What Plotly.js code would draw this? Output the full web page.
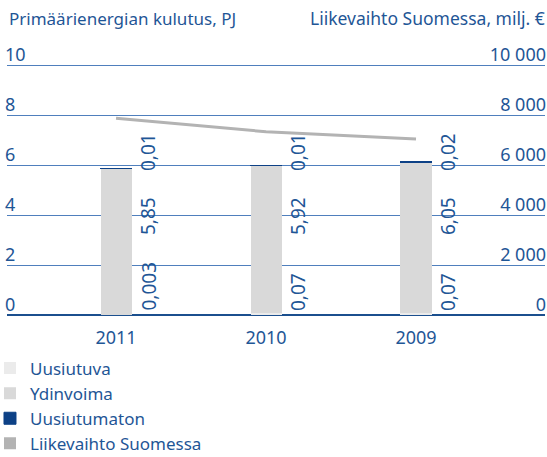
<!DOCTYPE html>
<html>
<head>
<meta charset="utf-8">
<script src="https://cdn.plot.ly/plotly-3.0.1.min.js"></script>
<style>html,body{margin:0;padding:0;background:#fff;}#chart{width:547px;height:457px;}</style>
</head>
<body>
<div id="chart"></div>
<script>
const years = ['2011', '2010', '2009'];
const uusiutuva = [0.003, 0.07, 0.07];
const ydinvoima = [5.85, 5.92, 6.05];
const uusiutumaton = [0.01, 0.01, 0.02];
const liikevaihto = [7870, 7330, 7040];
const leftTicks = [0, 2, 4, 6, 8, 10];
const rightTicks = [0, 2000, 4000, 6000, 8000, 10000];
const leftTitle = 'Primäärienergian kulutus, PJ';
const rightTitle = 'Liikevaihto Suomessa, milj. €';

const BLUE = '#1f5696';
const FONT = 'Noto Sans, sans-serif';
const fmt = v => String(v).replace('.', ',');

const barW = 0.207;
const traces = [
  {type: 'bar', name: 'Uusiutuva', x: years, y: uusiutuva, width: barW, marker: {color: '#ebebeb'}},
  {type: 'bar', name: 'Ydinvoima', x: years, y: ydinvoima, width: barW, marker: {color: '#d9d9d9'}},
  {type: 'bar', name: 'Uusiutumaton', x: years, y: uusiutumaton, width: barW,
   marker: {color: '#0d4186', line: {color: '#0d4186', width: 1}}},
  {type: 'scatter', mode: 'lines', name: 'Liikevaihto Suomessa', x: years, y: liikevaihto, yaxis: 'y2',
   line: {color: '#b3b3b3', width: 3}, showlegend: false},
  // legend swatch for the line series (no marks of its own)
  {type: 'bar', name: 'Liikevaihto Suomessa', x: years, y: years.map(() => null), yaxis: 'y3',
   marker: {color: '#b3b3b3'}}
];

const annotations = [];
const labelRows = [
  {vals: uusiutuva, y: 0.08},
  {vals: ydinvoima, y: 3.12},
  {vals: uusiutumaton, y: 5.68}
];
labelRows.forEach(row => {
  row.vals.forEach((v, i) => {
    annotations.push({x: i, y: row.y, xref: 'x', yref: 'y', text: fmt(v), showarrow: false,
      textangle: -90, xshift: 32, xanchor: 'center', yanchor: 'bottom',
      font: {family: FONT, size: 19, color: BLUE}});
  });
});
annotations.push({xref: 'paper', yref: 'paper', x: 0, y: 1, yshift: -3, xanchor: 'left', yanchor: 'middle',
  xshift: 0, text: leftTitle, showarrow: false, font: {family: FONT, size: 17, color: BLUE}});
annotations.push({xref: 'paper', yref: 'paper', x: 1, y: 1, yshift: -3, xanchor: 'right', yanchor: 'middle',
  xshift: 2, text: rightTitle, showarrow: false, font: {family: FONT, size: 17.5, color: BLUE}});

const layout = {
  width: 547, height: 457,
  margin: {l: 7, r: 2, t: 15, b: 137, autoexpand: false},
  paper_bgcolor: '#fff', plot_bgcolor: '#fff',
  separators: ', ',
  barmode: 'stack',
  showlegend: true,
  hovermode: false,
  font: {family: FONT, size: 18, color: BLUE},
  xaxis: {type: 'category', range: [-0.727, 2.86], showgrid: false, zeroline: false,
    showline: false, ticks: '', tickfont: {size: 18, color: BLUE}, ticklabelstandoff: 5, fixedrange: true},
  // gridlines (no labels)
  yaxis: {range: [-0.2, 12], tickvals: leftTicks, showticklabels: false,
    showgrid: true, gridcolor: '#4f7fbd', gridwidth: 1, zeroline: true, zerolinecolor: '#1b4f8e', zerolinewidth: 2.5,
    showline: false, ticks: '', fixedrange: true},
  // right-hand scale (line)
  yaxis2: {range: [-200, 12000], overlaying: 'y', side: 'right', tickvals: rightTicks, ticklabelposition: 'inside top',
    ticklabelstandoff: -4, ticklabelshift: 2,
    tickformat: ',d', showgrid: false, zeroline: false, showline: false, ticks: '',
    tickfont: {size: 18, color: BLUE}, fixedrange: true},
  // left-hand tick labels
  yaxis3: {range: [-0.2, 12], overlaying: 'y', side: 'left', tickvals: leftTicks, ticktext: leftTicks.map(String),
    ticklabelposition: 'inside top', ticklabelstandoff: -5, ticklabelshift: 2,
    showgrid: false, zeroline: false, showline: false, ticks: '',
    tickfont: {size: 18, color: BLUE}, fixedrange: true},
  legend: {x: -0.0316, xanchor: 'left', y: -0.1, yanchor: 'top', orientation: 'v', traceorder: 'normal',
    font: {size: 17, color: BLUE}, bgcolor: 'rgba(0,0,0,0)', tracegroupgap: 0},
  annotations: annotations
};

Plotly.newPlot('chart', traces, layout, {displayModeBar: false, staticPlot: true});
</script>
</body>
</html>
